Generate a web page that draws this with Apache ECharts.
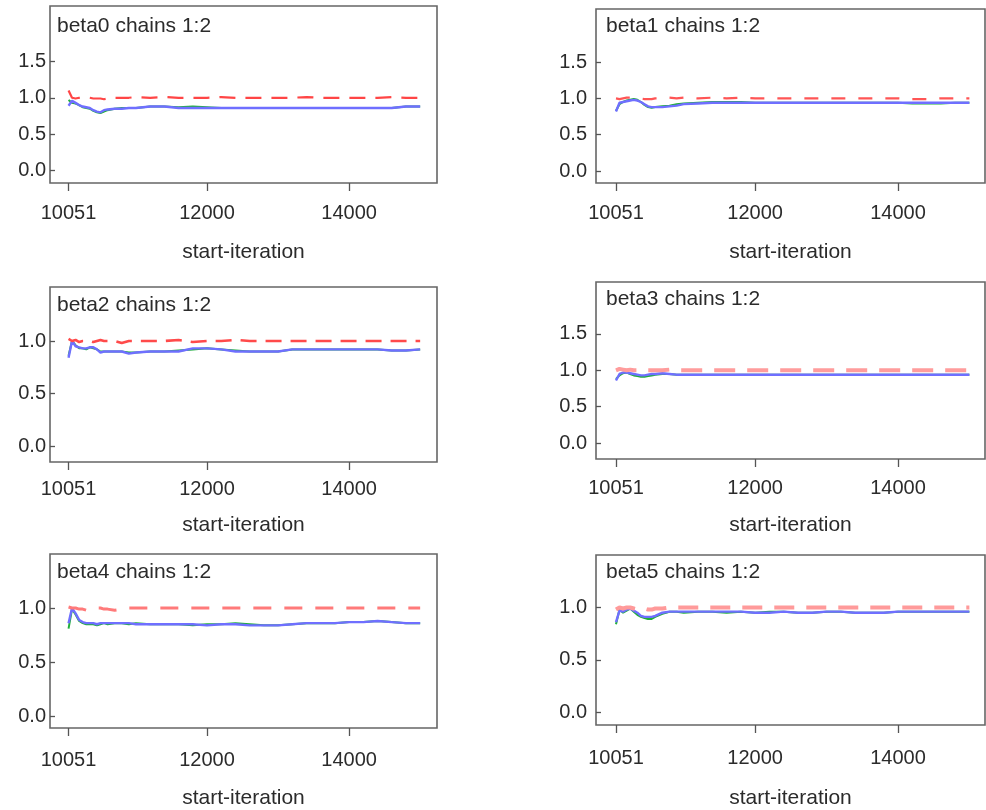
<!DOCTYPE html>
<html>
<head>
<meta charset="utf-8">
<style>html,body{margin:0;padding:0;background:#fff;}#c{width:986px;height:810px;}</style>
<script src="https://cdn.jsdelivr.net/npm/echarts@6/dist/echarts.min.js"></script>
</head>
<body>
<div id="c"></div>
<script>
// start-iteration values (x)
const iter = [10051,10100,10150,10200,10250,10300,10350,10400,10450,10500,10550,10600,10700,10800,10900,11000,11200,11400,11600,11800,12000,12200,12400,12600,12800,13000,13200,13400,13600,13800,14000,14200,14400,14600,14800,15000];
const panelNames = ['beta0 chains 1:2','beta1 chains 1:2','beta2 chains 1:2','beta3 chains 1:2','beta4 chains 1:2','beta5 chains 1:2'];
const xTicks = [10051, 12000, 14000];
const yTicksTall = [0, 0.5, 1.0, 1.5];
const yTicksShort = [0, 0.5, 1.0];
const xName = 'start-iteration';

// beta0
const red0   = [1.10,1.00,0.99,1.00,1.00,1.00,1.00,0.99,0.99,0.99,0.98,0.99,1.00,1.00,1.00,1.01,1.00,1.01,1.00,1.00,1.00,1.01,1.00,1.00,1.00,1.00,1.00,1.01,1.00,1.00,1.00,1.00,1.00,1.01,1.00,1.00];
const green0 = [0.97,0.93,0.92,0.90,0.87,0.86,0.85,0.82,0.80,0.79,0.81,0.83,0.85,0.86,0.86,0.86,0.88,0.88,0.87,0.88,0.87,0.86,0.86,0.86,0.86,0.86,0.86,0.86,0.86,0.86,0.86,0.86,0.86,0.86,0.88,0.88];
const blue0  = [0.89,0.96,0.93,0.90,0.88,0.87,0.86,0.83,0.81,0.80,0.83,0.84,0.85,0.85,0.86,0.86,0.88,0.88,0.86,0.86,0.86,0.86,0.86,0.86,0.86,0.86,0.86,0.86,0.86,0.86,0.86,0.86,0.86,0.86,0.88,0.88];
// beta1
const red1   = [1.00,0.99,1.00,1.01,1.01,1.01,1.00,1.00,0.99,0.99,0.99,1.00,1.00,1.01,1.00,1.01,1.00,1.01,1.00,1.01,1.00,1.00,1.00,1.00,1.00,1.00,1.00,1.00,1.00,1.00,1.00,0.99,0.99,1.00,1.00,1.00];
const green1 = [0.83,0.92,0.95,0.97,0.98,0.99,0.98,0.95,0.91,0.88,0.87,0.88,0.89,0.90,0.92,0.93,0.94,0.95,0.95,0.95,0.94,0.94,0.94,0.94,0.94,0.94,0.94,0.94,0.94,0.94,0.94,0.93,0.93,0.93,0.94,0.94];
const blue1  = [0.82,0.94,0.95,0.96,0.97,0.98,0.97,0.95,0.92,0.89,0.88,0.88,0.88,0.89,0.90,0.92,0.93,0.94,0.94,0.94,0.94,0.94,0.94,0.94,0.94,0.94,0.94,0.94,0.94,0.94,0.94,0.94,0.94,0.94,0.94,0.94];
// beta2
const red2   = [1.02,1.00,1.01,0.99,1.00,1.00,1.00,0.99,1.00,1.01,1.00,1.00,1.00,0.98,1.00,1.00,1.00,1.00,1.01,0.99,1.00,1.00,1.01,1.00,1.00,1.00,1.00,1.00,1.00,1.00,1.00,1.00,1.00,1.00,1.00,1.00];
const green2 = [0.86,1.00,0.96,0.93,0.93,0.92,0.94,0.93,0.92,0.90,0.90,0.90,0.90,0.90,0.89,0.89,0.90,0.90,0.91,0.92,0.93,0.92,0.91,0.90,0.90,0.90,0.92,0.92,0.92,0.92,0.92,0.92,0.92,0.91,0.91,0.92];
const blue2  = [0.84,1.00,0.95,0.94,0.93,0.93,0.94,0.94,0.92,0.89,0.90,0.90,0.90,0.90,0.88,0.89,0.90,0.90,0.90,0.93,0.93,0.92,0.90,0.90,0.90,0.90,0.92,0.92,0.92,0.92,0.92,0.92,0.92,0.91,0.91,0.92];
// beta3
const red3   = [1.00,1.02,1.01,1.00,1.01,1.00,1.00,1.00,1.01,1.00,1.00,1.00,1.00,1.01,1.00,1.00,1.00,1.00,1.00,1.00,1.00,1.00,1.00,1.00,1.00,1.00,1.00,1.00,1.00,1.00,1.00,1.00,1.00,1.00,1.00,1.00];
const green3 = [0.88,0.93,0.96,0.97,0.95,0.93,0.92,0.91,0.91,0.92,0.93,0.94,0.95,0.95,0.94,0.94,0.94,0.94,0.94,0.94,0.94,0.94,0.94,0.94,0.94,0.94,0.94,0.94,0.94,0.94,0.94,0.94,0.94,0.94,0.94,0.94];
const blue3  = [0.86,0.95,0.97,0.97,0.96,0.95,0.94,0.93,0.93,0.94,0.95,0.95,0.96,0.95,0.94,0.94,0.94,0.94,0.94,0.94,0.94,0.94,0.94,0.94,0.94,0.94,0.94,0.94,0.94,0.94,0.94,0.94,0.94,0.94,0.94,0.94];
// beta4
const red4   = [1.01,1.00,1.00,0.99,0.99,0.98,0.98,0.99,1.00,1.00,0.99,0.99,0.98,0.99,1.00,1.00,1.00,1.00,1.00,1.00,1.00,1.00,1.00,1.00,1.00,1.00,1.00,1.00,1.00,1.00,1.00,1.00,1.00,1.00,1.00,1.00];
const green4 = [0.81,0.99,0.94,0.88,0.86,0.85,0.85,0.85,0.84,0.85,0.86,0.85,0.86,0.86,0.85,0.86,0.85,0.85,0.85,0.84,0.85,0.85,0.86,0.85,0.84,0.84,0.85,0.86,0.86,0.86,0.87,0.87,0.88,0.87,0.86,0.86];
const blue4  = [0.86,1.00,0.95,0.89,0.87,0.86,0.86,0.86,0.85,0.86,0.86,0.86,0.86,0.86,0.86,0.85,0.85,0.85,0.85,0.85,0.84,0.85,0.85,0.84,0.84,0.84,0.85,0.86,0.86,0.86,0.87,0.87,0.88,0.87,0.86,0.86];
// beta5
const red5   = [0.98,1.00,0.99,1.00,1.00,0.99,0.98,0.99,0.99,0.98,0.98,0.99,0.99,1.00,1.00,1.00,1.00,1.00,1.00,1.00,1.00,1.00,1.00,1.00,1.00,1.00,1.00,1.00,1.00,1.00,1.00,1.00,1.00,1.00,1.00,1.00];
const green5 = [0.84,0.98,0.95,0.97,0.99,0.96,0.93,0.91,0.90,0.89,0.89,0.91,0.94,0.96,0.96,0.95,0.96,0.96,0.95,0.96,0.95,0.96,0.96,0.95,0.95,0.96,0.96,0.95,0.95,0.95,0.96,0.96,0.96,0.96,0.96,0.96];
const blue5  = [0.86,0.97,0.96,0.98,0.99,0.97,0.95,0.92,0.91,0.91,0.91,0.92,0.95,0.96,0.96,0.96,0.96,0.96,0.96,0.96,0.95,0.95,0.96,0.95,0.95,0.96,0.96,0.95,0.95,0.95,0.96,0.96,0.96,0.96,0.96,0.96];

const reds = [red0, red1, red2, red3, red4, red5];
const greens = [green0, green1, green2, green3, green4, green5];
const blues = [blue0, blue1, blue2, blue3, blue4, blue5];

// layout (pixels / styles)
const layout = [
  {left:50, top:6,   width:387, height:177, xmin:9790, xmax:15237, ymin:-0.17, ymax:2.26, yt:yTicksTall,  ym:4, xm:20, ng:59, tl:57,  tt:16,  rw:2.2, rc:'#ff4545', dash:[16,10]},
  {left:596,top:9,   width:389, height:174, xmin:9771, xmax:15219, ymin:-0.165,ymax:2.23, yt:yTicksTall,  ym:9, xm:20, ng:59, tl:606, tt:16,  rw:2.2, rc:'#ff5555', dash:[14,13]},
  {left:50, top:287, width:387, height:175, xmin:9790, xmax:15237, ymin:-0.152,ymax:1.514,yt:yTicksShort, ym:4, xm:17, ng:53, tl:57,  tt:295, rw:2.6, rc:'#ff4a4a', dash:[16,9]},
  {left:596,top:282, width:389, height:177, xmin:9771, xmax:15219, ymin:-0.22, ymax:2.215,yt:yTicksTall,  ym:9, xm:19, ng:56, tl:606, tt:289, rw:4,   rc:'#ff9c9c', dash:[21,12]},
  {left:50, top:554, width:387, height:174, xmin:9790, xmax:15237, ymin:-0.11, ymax:1.50, yt:yTicksShort, ym:4, xm:22, ng:60, tl:57,  tt:562, rw:3,   rc:'#ff7a7a', dash:[18,13]},
  {left:596,top:555, width:389, height:173, xmin:9771, xmax:15219, ymin:-0.12, ymax:1.50, yt:yTicksShort, ym:9, xm:23, ng:63, tl:606, tt:562, rw:4,   rc:'#ff9a9a', dash:[20,12]}
];

const FONT = '"Liberation Sans", Arial, sans-serif';
const TXT = '#2b2b2b';
const grids = [], xAxes = [], yAxes = [], series = [], titles = [];
layout.forEach((L, i) => {
  grids.push({left:L.left, top:L.top, width:L.width, height:L.height, show:true, borderColor:'#666', borderWidth:1.6, backgroundColor:'#fff', containLabel:false});
  xAxes.push({
    type:'value', gridIndex:i, min:L.xmin, max:L.xmax, position:'bottom',
    name:xName, nameLocation:'middle', nameGap:L.ng,
    nameTextStyle:{fontFamily:FONT, fontSize:21, color:TXT},
    axisLine:{show:false, onZero:false},
    splitLine:{show:false},
    axisTick:{show:true, length:8, inside:false, customValues:xTicks, lineStyle:{color:'#555', width:1.3}},
    axisLabel:{show:true, margin:L.xm, customValues:xTicks, fontFamily:FONT, fontSize:20, color:TXT, formatter:v=>String(v)}
  });
  yAxes.push({
    type:'value', gridIndex:i, min:L.ymin, max:L.ymax, position:'left',
    axisLine:{show:false, onZero:false},
    splitLine:{show:false},
    axisTick:{show:true, length:5, inside:true, customValues:L.yt, lineStyle:{color:'#555', width:1.3}},
    axisLabel:{show:true, margin:L.ym, customValues:L.yt, fontFamily:FONT, fontSize:20, color:TXT, formatter:v=>Number(v).toFixed(1)}
  });
  titles.push({text:panelNames[i], left:L.tl, top:L.tt, padding:0, textStyle:{fontFamily:FONT, fontSize:21, fontWeight:'normal', color:TXT}});
  const pts = arr => iter.map((x, k) => [x, arr[k]]);
  series.push({type:'line', xAxisIndex:i, yAxisIndex:i, data:pts(greens[i]), showSymbol:false, silent:true, animation:false, z:2,
    lineStyle:{color:'#1fae3a', width:2}});
  series.push({type:'line', xAxisIndex:i, yAxisIndex:i, data:pts(blues[i]), showSymbol:false, silent:true, animation:false, z:3,
    lineStyle:{color:'#6f6fff', width:2.4}});
  series.push({type:'line', xAxisIndex:i, yAxisIndex:i, data:pts(reds[i]), showSymbol:false, silent:true, animation:false, z:4,
    lineStyle:{color:L.rc, width:L.rw, type:L.dash}});
});

const chart = echarts.init(document.getElementById('c'), null, {renderer:'canvas'});
chart.setOption({
  animation:false,
  backgroundColor:'#fff',
  title:titles,
  grid:grids,
  xAxis:xAxes,
  yAxis:yAxes,
  series:series
});
</script>
</body>
</html>
